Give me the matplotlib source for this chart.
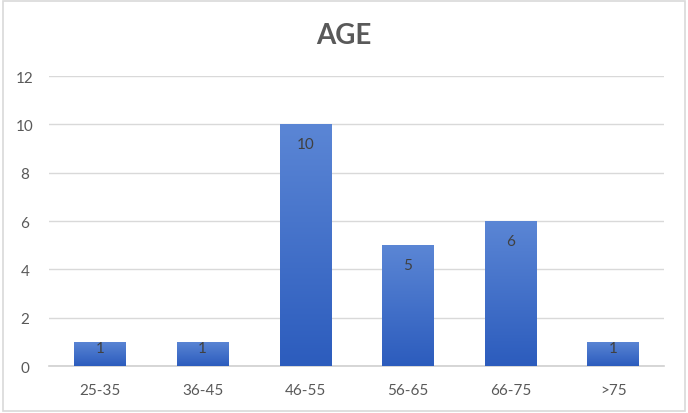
import matplotlib
matplotlib.use("Agg")
import matplotlib.pyplot as plt
import numpy as np
from matplotlib.patches import Rectangle
from matplotlib.colors import LinearSegmentedColormap

categories = ["25-35", "36-45", "46-55", "56-65", "66-75", ">75"]
values = [1, 1, 10, 5, 6, 1]
yticks = [0, 2, 4, 6, 8, 10, 12]

plt.rcParams['font.family'] = ['Lato', 'DejaVu Sans']
gray = "#595959"

fig = plt.figure(figsize=(6.88, 4.14), dpi=100)
ax = fig.add_axes([0.0706, 0.1135, 0.8951, 0.7005])

x = np.arange(len(categories))
bars = ax.bar(x, values, width=0.5, color="none", edgecolor="none", zorder=3)

grad = np.linspace(0, 1, 256).reshape(-1, 1)
cmap = LinearSegmentedColormap.from_list("g", ["#2c5cbd", "#5b86d5"])
for b in bars:
    x0, y0 = b.get_x(), b.get_y()
    w, h = b.get_width(), b.get_height()
    im = ax.imshow(grad, extent=[x0, x0 + w, y0, y0 + h], origin="lower",
                   cmap=cmap, aspect="auto", zorder=3)
    im.set_clip_path(b)

ax.set_xlim(-0.5, len(categories) - 0.5)
ax.set_ylim(0, 12)

for xi, v in zip(x, values):
    off = -20 if v >= 3 else -6
    ax.annotate(str(v), (xi, v), xytext=(0, off), textcoords="offset pixels",
                ha="center", va="center", fontsize=11, color="#404040", zorder=5)

ax.set_xticks(x)
ax.set_xticklabels(categories)
ax.set_yticks(yticks)
ax.tick_params(axis="both", length=0, labelsize=11, labelcolor=gray)
ax.tick_params(axis="x", pad=12)
ax.tick_params(axis="y", pad=17)
for lab in ax.get_yticklabels():
    lab.set_horizontalalignment("center")
ax.grid(axis="y", color="#d9d9d9", lw=1, zorder=0)
ax.set_axisbelow(True)
for s in ["top", "right", "left"]:
    ax.spines[s].set_visible(False)
ax.spines["bottom"].set_color("#d0d0d0")
ax.spines["bottom"].set_linewidth(1.2)

fig.text(0.5, 0.913, "AGE", ha="center", va="center", fontsize=20,
         fontweight="bold", color=gray)

fig.patches.append(Rectangle((0.004, 0.006), 0.992, 0.988, transform=fig.transFigure,
                             fill=False, edgecolor="#d9d9d9", lw=1.2))

fig.savefig("out.png", dpi=100)
